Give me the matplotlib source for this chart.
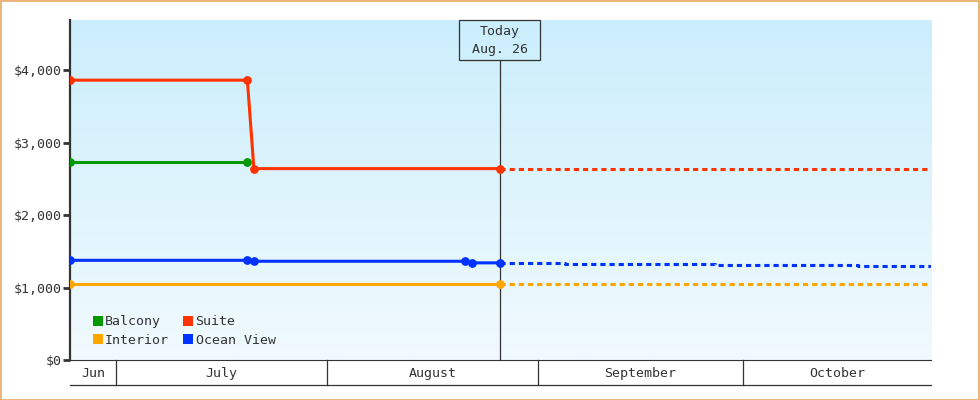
import matplotlib
matplotlib.use("Agg")
import matplotlib.pyplot as plt
import matplotlib.dates as mdates
from matplotlib.lines import Line2D
from matplotlib.patches import Rectangle
from matplotlib.transforms import blended_transform_factory, ScaledTranslation
import numpy as np
import pandas as pd

# ---------------- data ----------------
series_names = ["Balcony", "Suite", "Interior", "Ocean View"]
series_colors = ["#009900", "#ff3300", "#ffa500", "#0033ff"]

balcony_dates = ["2024-06-24 06:00", "2024-07-20 07:00"]
balcony_values = [2735, 2735]

suite_dates = ["2024-06-24 06:00", "2024-07-20 07:00", "2024-07-21 06:00", "2024-08-26 09:00"]
suite_values = [3860, 3860, 2640, 2640]
suite_fc_dates = ["2024-08-26 09:00", "2024-10-28 16:00"]
suite_fc_values = [2640, 2640]

interior_dates = ["2024-06-24 06:00", "2024-08-26 09:00"]
interior_values = [1050, 1050]
interior_fc_dates = ["2024-08-26 09:00", "2024-10-28 16:00"]
interior_fc_values = [1050, 1050]

ocean_dates = ["2024-06-24 06:00", "2024-07-20 07:00", "2024-07-21 06:00",
               "2024-08-21 06:00", "2024-08-22 06:00", "2024-08-26 09:00"]
ocean_values = [1375, 1375, 1362, 1362, 1340, 1340]
ocean_fc_dates = ["2024-08-26 09:00", "2024-09-05 00:00", "2024-09-27 00:00",
                  "2024-10-18 00:00", "2024-10-28 16:00"]
ocean_fc_values = [1340, 1325, 1310, 1296, 1296]

today = "2024-08-26 09:00"
today_lines = ["Today", "Aug. 26"]
x_start = "2024-06-24 06:00"
x_end = "2024-10-28 16:00"

month_edges = ["2024-06-24 06:00", "2024-07-01", "2024-08-01", "2024-09-01", "2024-10-01", "2024-10-28 16:00"]
month_labels = ["Jun", "July", "August", "September", "October"]

y_ticks = [0, 1000, 2000, 3000, 4000]
y_tick_labels = ["$0", "$1,000", "$2,000", "$3,000", "$4,000"]
y_max = 4690

# ---------------- style ----------------
FONT = "DejaVu Sans Mono"
TXT = "#333333"
plt.rcParams["font.family"] = [FONT, "DejaVu Sans"]

W, H = 980, 400
fig = plt.figure(figsize=(W / 100, H / 100), dpi=100)
L, R, T, B = 70, 931, 20, 360
ax = fig.add_axes([L / W, 1 - B / H, (R - L) / W, (B - T) / H])

def d(s):
    return mdates.date2num(pd.to_datetime(s))

def dl(lst):
    return [d(s) for s in lst]

# gradient background
top_c = np.array([0xcb, 0xee, 0xfc]) / 255
bot_c = np.array([0xf1, 0xfa, 0xfe]) / 255
t = np.linspace(0, 1, 256)[:, None]
grad = (top_c[None, :] * (1 - t) + bot_c[None, :] * t)[:, None, :]
ax.imshow(grad, extent=[0, 1, 0, 1], transform=ax.transAxes, aspect="auto",
          zorder=0, interpolation="bilinear")

LW = 2.2
MS = 6.3
dash = (0, (1.7, 1.3))

solid = [
    (balcony_dates, balcony_values, 0),
    (suite_dates, suite_values, 1),
    (interior_dates, interior_values, 2),
    (ocean_dates, ocean_values, 3),
]
fcs = [
    (suite_fc_dates, suite_fc_values, 1),
    (interior_fc_dates, interior_fc_values, 2),
    (ocean_fc_dates, ocean_fc_values, 3),
]
for ds, vs, i in fcs:
    ax.plot(dl(ds), vs, color=series_colors[i], lw=LW, linestyle=dash,
            drawstyle="steps-post", zorder=3, dash_capstyle="butt")
for ds, vs, i in solid:
    ax.plot(dl(ds), vs, color=series_colors[i], lw=LW, marker="o", ms=MS,
            markeredgewidth=0, zorder=4)

ax.set_xlim(d(x_start), d(x_end))
ax.set_ylim(0, y_max)

# today line & box (box 81x40 px, top aligned with plot top)
tx = d(today)
xt = ax.get_xaxis_transform()
box_h = 40 / (B - T)
ax.plot([tx, tx], [0, 1 - box_h], transform=xt, color=TXT,
        lw=0.9, zorder=2, clip_on=False)
box_w_px = 81
px_tr = fig.dpi_scale_trans
rect_tr = xt + ScaledTranslation(-box_w_px / 2 / 100, 0, px_tr)
ax.add_patch(Rectangle((tx, 1 - box_h), 0, 0, transform=xt, fill=False, lw=0))
box = Rectangle((0, 0), box_w_px / 100, 40 / 100, fill=False, ec=TXT, lw=0.9,
                transform=px_tr + ScaledTranslation(0, 0, px_tr), zorder=6)
# place box via display coords
xpix = ax.transData.transform((tx, 0))[0]
box = Rectangle(((xpix - box_w_px / 2) / W, 1 - 60 / H), box_w_px / W, 40 / H,
                transform=fig.transFigure, fill=False, ec=TXT, lw=0.9, zorder=6)
fig.patches.append(box)
ax.text(tx, 1 - 12 / (B - T), today_lines[0], transform=xt, ha="center",
        va="center", fontsize=9.5, color=TXT, zorder=6)
ax.text(tx, 1 - 30 / (B - T), today_lines[1], transform=xt, ha="center",
        va="center", fontsize=9.5, color=TXT, zorder=6)

ax.set_yticks(y_ticks)
ax.set_yticklabels(y_tick_labels, fontsize=9.5, color=TXT)
ax.tick_params(axis="y", length=5, width=2, color=TXT, pad=1)
ax.set_xticks([])

for s in ["top", "right"]:
    ax.spines[s].set_visible(False)
ax.spines["left"].set_color(TXT)
ax.spines["left"].set_linewidth(1.6)
ax.spines["bottom"].set_color(TXT)
ax.spines["bottom"].set_linewidth(0.8)

# month band
band_h = 25 / (B - T)
ax.plot([d(x_start), d(x_end)], [-band_h, -band_h], transform=xt, color=TXT,
        lw=0.9, clip_on=False)
edges = dl(month_edges)
for e in edges[1:-1]:
    ax.plot([e, e], [0, -band_h], transform=xt, color=TXT, lw=0.9, clip_on=False)
for i, lab in enumerate(month_labels):
    ax.text((edges[i] + edges[i + 1]) / 2, -band_h / 2 - 0.003, lab, transform=xt,
            ha="center", va="center", fontsize=9.5, color=TXT)

# legend
handles = []
order = [0, 2, 1, 3]
for i in order:
    handles.append(Line2D([], [], linestyle="none", marker="s", ms=7.8,
                          markeredgewidth=0, color=series_colors[i]))
leg = ax.legend(handles, [series_names[i] for i in order], ncol=2,
                loc="lower left", bbox_to_anchor=(0.027, 0.038), frameon=False,
                fontsize=9.5, handlelength=0.7, handletextpad=0.2,
                columnspacing=1.1, labelspacing=0.45, borderpad=0,
                borderaxespad=0)
for txt in leg.get_texts():
    txt.set_color(TXT)

# figure border
fig.patches.append(Rectangle((0.5 / W, 0.5 / H), 1 - 1.5 / W, 1 - 1.5 / H,
                             transform=fig.transFigure, fill=False,
                             ec="#e8a864", lw=1.2))

fig.savefig("out.png", dpi=100)
